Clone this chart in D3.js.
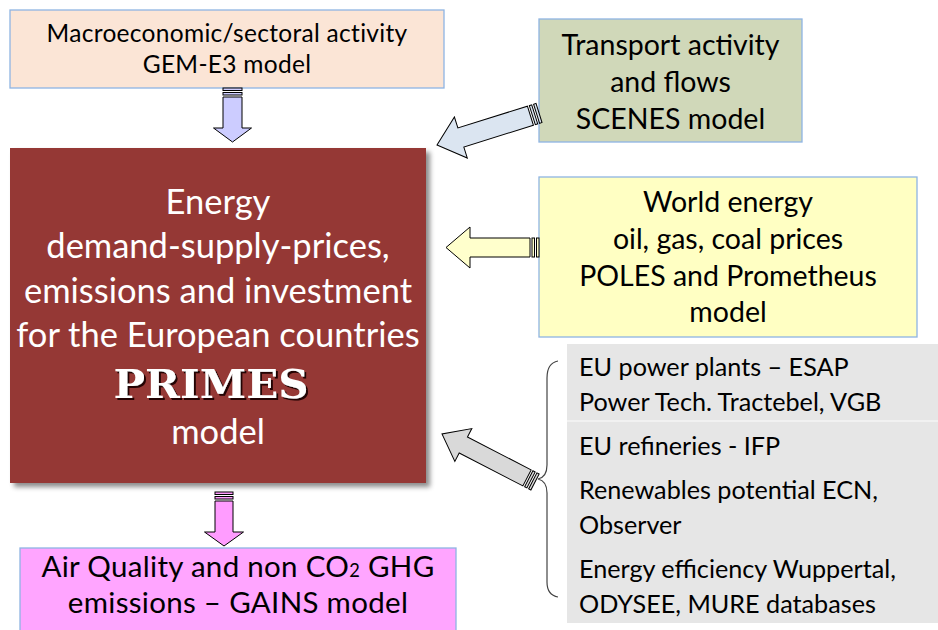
<!DOCTYPE html>
<html>
<head>
<meta charset="utf-8">
<script src="https://cdn.jsdelivr.net/npm/d3@7"></script>
<style>
  body { margin: 0; background: #fff; }
  svg { display: block; }
  .label { font-family: Lato, "Open Sans", sans-serif; fill: #000; }
  .primes-text { font-family: Lato, "Open Sans", sans-serif; fill: #fff; }
</style>
</head>
<body>
<div id="wrapper"></div>
<script>
// box texts
const macroLines = ["Macroeconomic/sectoral activity", "GEM-E3 model"]
const transportLines = ["Transport activity", "and flows", "SCENES model"]
const worldLines = ["World energy", "oil, gas, coal prices", "POLES and Prometheus", "model"]
const primesLines = ["Energy", "demand-supply-prices,", "emissions and investment", "for the European countries"]
const primesName = "PRIMES"
const primesTail = "model"
const gainsLines = ["Air Quality and non CO|2| GHG", "emissions \u2013 GAINS model"]
const sourceGroups = [
  ["EU power plants \u2013 ESAP", "Power Tech. Tractebel, VGB"],
  ["EU refineries - IFP"],
  ["Renewables potential  ECN,", "Observer"],
  ["Energy efficiency Wuppertal,", "ODYSEE, MURE databases"],
]

async function drawDiagram() {
  const dimensions = { width: 938, height: 630 }

  const wrapper = d3.select("#wrapper")
    .append("svg")
      .attr("width", dimensions.width)
      .attr("height", dimensions.height)

  const defs = wrapper.append("defs")
  const shadow = defs.append("filter")
      .attr("id", "box-shadow")
      .attr("x", "-5%").attr("y", "-5%")
      .attr("width", "115%").attr("height", "115%")
  shadow.append("feDropShadow")
      .attr("dx", 4).attr("dy", 4)
      .attr("stdDeviation", 2.5)
      .attr("flood-color", "#000")
      .attr("flood-opacity", 0.45)

  const textShadow = defs.append("filter").attr("id", "text-shadow")
  textShadow.append("feDropShadow")
      .attr("dx", 2).attr("dy", 2)
      .attr("stdDeviation", 0.6)
      .attr("flood-color", "#1e0606")
      .attr("flood-opacity", 0.95)

  const boxStroke = "#8eb4e3"

  // helper for plain centred text boxes
  const drawBox = ({ x, y, w, h, fill, lines, size, lineHeight, firstBaseline, spacing = 0, stroke = boxStroke }) => {
    const g = wrapper.append("g")
    g.append("rect")
        .attr("x", x).attr("y", y)
        .attr("width", w).attr("height", h)
        .attr("fill", fill)
        .attr("stroke", stroke)
        .attr("stroke-width", 1.3)
    g.selectAll("text")
        .data(lines)
      .enter().append("text")
        .attr("class", "label")
        .attr("x", x + w / 2)
        .attr("y", (d, i) => firstBaseline + i * lineHeight)
        .attr("text-anchor", "middle")
        .style("font-size", `${size}px`)
        .style("letter-spacing", `${spacing}px`)
        .each(function(d) {
          const parts = d.split("|")
          const t = d3.select(this)
          parts.forEach((p, i) => {
            const span = t.append("tspan").text(p)
            if (i % 2 === 1) span.style("font-size", `${size * 0.62}px`)
          })
        })
    return g
  }

  // block arrow with striped tail
  const blockArrow = ({ tail, tip, shaft, headW, headL, fill }) => {
    const dx = tip[0] - tail[0], dy = tip[1] - tail[1]
    const len = Math.hypot(dx, dy)
    const angle = Math.atan2(dy, dx) * 180 / Math.PI
    const g = wrapper.append("g")
        .attr("transform", `translate(${tail[0]},${tail[1]}) rotate(${angle})`)
    const s = shaft / 2, hw = headW / 2
    const line = d3.line()
    const start = 9
    g.append("path")
        .attr("d", line([[start, -s], [len - headL, -s], [len - headL, -hw], [len, 0],
          [len - headL, hw], [len - headL, s], [start, s]]) + "Z")
        .attr("fill", fill)
        .attr("stroke", "#000")
        .attr("stroke-width", 1)
    ;[[0, 2.5], [4.5, 7]].forEach(([a, b]) => {
      g.append("rect")
          .attr("x", a).attr("y", -s)
          .attr("width", b - a).attr("height", shaft)
          .attr("fill", fill)
          .attr("stroke", "#000")
          .attr("stroke-width", 1)
    })
  }

  // top macro box
  drawBox({ x: 10, y: 10, w: 434, h: 78, fill: "#fbe5d6", lines: macroLines,
    size: 24.5, lineHeight: 30.5, firstBaseline: 42, spacing: 0.3 })

  // transport box
  drawBox({ x: 539, y: 19, w: 263, h: 123, fill: "#d0d8b9", lines: transportLines,
    size: 28.5, lineHeight: 37, firstBaseline: 55 })

  // world energy box
  drawBox({ x: 539, y: 177, w: 378, h: 160, fill: "#ffffc3", lines: worldLines,
    size: 28.5, lineHeight: 36.8, firstBaseline: 212 })

  // PRIMES box
  const primes = wrapper.append("g")
  primes.append("rect")
      .attr("x", 10).attr("y", 148)
      .attr("width", 416).attr("height", 335)
      .attr("fill", "#953735")
      .attr("filter", "url(#box-shadow)")
  primes.selectAll(".primes-line")
      .data(primesLines)
    .enter().append("text")
      .attr("class", "primes-text primes-line")
      .attr("x", 218)
      .attr("y", (d, i) => 214 + i * 44.3)
      .attr("text-anchor", "middle")
      .style("font-size", "34.5px")
      .text(d => d)
  primes.append("text")
      .attr("x", 211)
      .attr("y", 398)
      .attr("text-anchor", "middle")
      .attr("textLength", 195)
      .attr("lengthAdjust", "spacingAndGlyphs")
      .attr("filter", "url(#text-shadow)")
      .style("font-family", "'DejaVu Serif', serif")
      .style("font-weight", "bold")
      .style("font-size", "40px")
      .style("fill", "#fff")
      .text(primesName)
  primes.append("text")
      .attr("class", "primes-text")
      .attr("x", 218)
      .attr("y", 444)
      .attr("text-anchor", "middle")
      .style("font-size", "34.5px")
      .text(primesTail)

  // sources panel
  const panel = wrapper.append("g")
  panel.append("rect")
      .attr("x", 567).attr("y", 344)
      .attr("width", 371).attr("height", 279)
      .attr("fill", "#e6e6e6")
  panel.append("line")
      .attr("x1", 567).attr("x2", 938)
      .attr("y1", 421).attr("y2", 421)
      .attr("stroke", "#f4f4f4")
      .attr("stroke-width", 1.5)
  const groupTops = [376, 455, 499, 578]
  sourceGroups.forEach((lines, gi) => {
    panel.selectAll(null)
        .data(lines)
      .enter().append("text")
        .attr("class", "label")
        .attr("x", 579)
        .attr("y", (d, i) => groupTops[gi] + i * 34.5)
        .style("font-size", "25.2px")
        .text(d => d)
  })

  // curly brace
  const brace = d3.path()
  brace.moveTo(558, 361)
  brace.quadraticCurveTo(547, 363, 547, 378)
  brace.lineTo(547, 465)
  brace.quadraticCurveTo(547, 477, 538, 479)
  brace.quadraticCurveTo(547, 481, 547, 493)
  brace.lineTo(547, 582)
  brace.quadraticCurveTo(547, 595, 558, 597)
  wrapper.append("path")
      .attr("d", brace.toString())
      .attr("fill", "none")
      .attr("stroke", "#444")
      .attr("stroke-width", 1.2)

  // gains box
  drawBox({ x: 20, y: 548, w: 436, h: 90, fill: "#ffa5ff", lines: gainsLines,
    size: 29.5, lineHeight: 36, firstBaseline: 577, spacing: 0.3 })

  // arrows
  blockArrow({ tail: [232.5, 88], tip: [232.5, 142], shaft: 19, headW: 38, headL: 14, fill: "#ccccff" })
  blockArrow({ tail: [539, 113], tip: [437, 145], shaft: 20, headW: 43, headL: 25, fill: "#dbe5f1" })
  blockArrow({ tail: [539, 247.5], tip: [446, 247.5], shaft: 19, headW: 41, headL: 24, fill: "#ffffcc" })
  blockArrow({ tail: [535, 482], tip: [442, 434], shaft: 18, headW: 37, headL: 24, fill: "#d9d9d9" })
  blockArrow({ tail: [224, 492], tip: [224, 546], shaft: 18, headW: 39, headL: 14, fill: "#ff9cff" })
}
drawDiagram()
</script>
</body>
</html>
